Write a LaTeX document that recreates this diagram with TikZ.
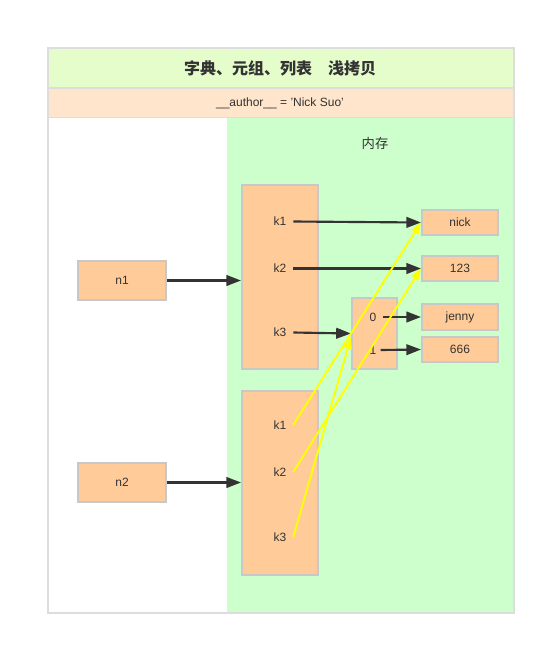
\documentclass[tikz,border=0pt]{standalone}
\usepackage{fontspec}
\setmainfont{Liberation Sans}
\newfontfamily\cjk{Noto Sans CJK SC}
\usetikzlibrary{arrows.meta}
\definecolor{frameline}{HTML}{DDDDDD}
\definecolor{titlebg}{HTML}{E5FCCB}
\definecolor{authorbg}{HTML}{FEE5CC}
\definecolor{membg}{HTML}{CCFFCC}
\definecolor{boxfill}{HTML}{FFCC99}
\definecolor{boxline}{HTML}{C8C8C8}
\definecolor{ink}{HTML}{333333}
\definecolor{ref}{HTML}{FFFF00}
\tikzset{
  box/.style={draw=boxline, fill=boxfill, line width=1.5pt, inner sep=0pt, text=ink, font=\fontsize{9}{10}\selectfont},
  lbl/.style={inner sep=0pt, text=ink, font=\fontsize{9}{10}\selectfont},
  arr/.style={draw=ink, line width=1.6pt, -{Triangle[length=11pt,width=8pt]}},
  yarr/.style={draw=ref, line width=1.4pt, -{Triangle[length=8.5pt,width=6pt]}},
}
\begin{document}
\begin{tikzpicture}[x=0.75pt,y=-0.75pt]
\useasboundingbox (0,0) rectangle (546,646);
\fill[white] (0,0) rectangle (546,646);
% frame and bands
\fill[titlebg] (48,48) rectangle (513,88);
\fill[authorbg] (48,88) rectangle (513,117);
\fill[membg] (227,118) rectangle (513,612);
\draw[frameline, line width=1.2pt] (48,88) -- (513,88);
\draw[frameline, line width=1.2pt] (48,117.5) -- (513,117.5);
\draw[frameline, line width=1.5pt] (47.5,47.5) rectangle (513.5,612.5);
\node[inner sep=0pt, text=ink, font=\cjk\bfseries\fontsize{12}{14}\selectfont] (title) at (280,68) {字典、元组、列表\hspace{1em}浅拷贝};
\node[lbl] (author) at (280,103) {\_\_author\_\_ = 'Nick Suo'};
\node[inner sep=0pt, text=ink, font=\cjk\fontsize{10}{12}\selectfont] (mem) at (375,143) {内存};
% variables
\node[box, minimum width=66pt, minimum height=29pt] (n1) at (122,280.5) {n1};
\node[box, minimum width=66pt, minimum height=29pt] (n2) at (122,482.5) {n2};
% dict boxes
\node[box, minimum width=57pt, minimum height=138pt] (d1) at (280,277) {};
\node[box, minimum width=57pt, minimum height=138pt] (d2) at (280,482.5) {};
\node[lbl] (d1k1) at (280,221.5) {k1};
\node[lbl] (d1k2) at (280,268.5) {k2};
\node[lbl] (d1k3) at (280,332.5) {k3};
\node[lbl] (d2k1) at (280,425) {k1};
\node[lbl] (d2k2) at (280,472) {k2};
\node[lbl] (d2k3) at (280,537) {k3};
% tuple
\node[box, minimum width=34pt, minimum height=53pt] (tp) at (374.5,333.5) {};
\node[lbl] (t0) at (373,317) {0};
\node[lbl] (t1) at (373,350) {1};
% values
\node[box, minimum width=57pt, minimum height=19pt] (nick) at (460,222.5) {nick};
\node[box, minimum width=57pt, minimum height=19pt] (v123) at (460,268.5) {123};
\node[box, minimum width=57pt, minimum height=19pt] (jenny) at (460,317) {jenny};
\node[box, minimum width=57pt, minimum height=19pt] (v666) at (460,349.5) {666};
% black arrows
\draw[arr] (n1.east) -- (d1.west |- n1.east);
\draw[arr] (n2.east) -- (d2.west |- n2.east);
\draw[arr] ([xshift=5pt]d1k1.east) -- (nick.west);
\draw[arr] ([xshift=5pt]d1k2.east) -- (v123.west);
\draw[arr] ([xshift=5pt]d1k3.east) -- (tp.west);
\draw[arr] ([xshift=5pt]t0.east) -- (jenny.west);
\draw[arr] ([xshift=3pt]t1.east) -- (v666.west);
% yellow arrows
\draw[yarr] ([xshift=5pt]d2k1.east) -- (nick.west);
\draw[yarr] ([xshift=5pt]d2k2.east) -- (v123.west);
\draw[yarr] ([xshift=5pt]d2k3.east) -- ([yshift=-3pt]tp.west);
\end{tikzpicture}
\end{document}
